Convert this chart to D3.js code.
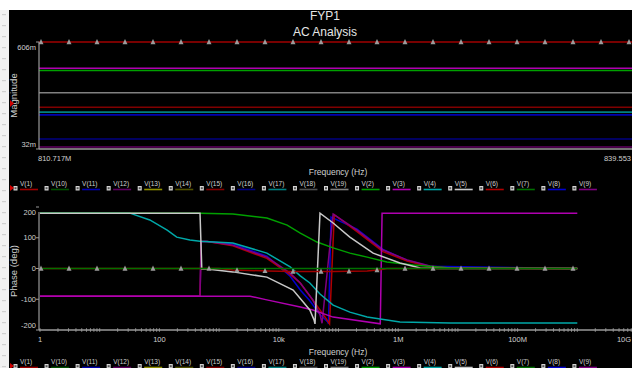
<!DOCTYPE html>
<html><head><meta charset="utf-8">
<script src="https://cdn.jsdelivr.net/npm/d3@7"></script>
<style>
html,body{margin:0;padding:0;background:#fff;overflow:hidden}
svg{display:block}
text{font-family:"Liberation Sans Narrow","Liberation Sans",Arial,sans-serif}
</style></head><body>
<svg id="c" width="632" height="368"></svg>
<script>
// ---------- DATA ----------
const titleLines = ["FYP1", "AC Analysis"];
const legendNames = ["V(1)","V(10)","V(11)","V(12)","V(13)","V(14)","V(15)","V(16)","V(17)","V(18)","V(19)","V(2)","V(3)","V(4)","V(5)","V(6)","V(7)","V(8)","V(9)"];

// Magnitude plot (values in mV, constant over the zoomed frequency window)
const magFreqDomain = [810.717e6, 839.553e6];
const magFreqLabels = ["810.717M", "839.553"];
const magTicks = [606, 32];
const magTickLabels = ["606m", "32m"];
const magSeries = ["V(12)","V(16)","V(11)","V(17)","V(15)","V(19)","V(2)","V(3)","V(1)"];
const magValues = [43, 86, 215, 230, 256, 334, 453, 465, 606];

// Phase plot
const phaseTicks = [200, 100, 0, -100, -200];
const freqTicks = [1, 100, 1e4, 1e6, 1e8, 1e10];
const freqTickLabels = ["1", "100", "10k", "1M", "100M", "10G"];

const fV8 = [1, 479, 501, 631, 1700, 6310, 15500, 22900, 33100, 49000, 66100, 68000, 75000, 204000, 556000, 1.41e6, 3.39e6, 1e9];
const pV8 = [-90, -90, 88, 88, 80, 40, -25, -70, -105, -150, -174, -180, 167, 128, 62, 26, 7, 0];

const fV6 = [1, 479, 501, 631, 1700, 6310, 15500, 22900, 49000, 63000, 70800, 85000, 204000, 556000, 1.41e6, 3.39e6, 7.41e6, 1e9];
const pV6 = [-90, -90, 88, 88, 74, 33, -20, -47, -135, -165, -180, 175, 120, 55, 24, 6, 1, 0];

const fV9 = [1, 479, 501, 631, 1700, 6310, 15500, 22900, 37200, 49000, 53000, 81300, 204000, 556000, 1.41e6, 3.39e6, 7.41e6, 1e9];
const pV9 = [-90, -90, 88, 88, 76, 37, -15, -47, -102, -150, -178, 177, 125, 60, 28, 8, 2, 0];

const fV3 = [1, 3310, 6310, 22900, 37200, 81300, 501000, 537000, 1e9];
const pV3 = [-90, -90, -102, -125, -135, -158, -180, 180, 180];

const fV4 = [1, 32, 69, 135, 195, 324, 479, 1700, 6310, 15500, 22900, 33100, 49000, 81300, 155000, 302000, 1.07e6, 7.41e6, 1e9];
const pV4 = [180, 180, 158, 125, 102, 93, 89, 83, 50, 5, -24, -47, -83, -119, -142, -158, -174, -177, -177];

const fV2 = [1, 479, 1700, 6310, 13800, 22900, 43600, 81300, 155000, 302000, 646000, 1.78e6, 7.41e6, 1e9];
const pV2 = [180, 180, 177, 164, 141, 115, 86, 67, 50, 37, 21, 11, 2, 0];

const fV5 = [1, 479, 513, 631, 1700, 6310, 17400, 33100, 38900, 40400, 49000, 81300, 155000, 380000, 1.07e6, 2.34e6, 5.01e6, 1e9];
const pV5 = [180, 180, -2, -2, -11, -28, -70, -135, -167, -180, 180, 148, 102, 50, 18, 2, 0, 0];

const fV1 = [1, 1000, 1700, 6310, 17400, 33100, 81300, 302000, 501000, 646000, 1e9];
const pV1 = [0, 0, -5, -8, -10, -10, -10, -8, -4, 0, 0];

const fV7 = [1, 1e9];
const pV7 = [0, 0];

// ---------- STYLE ----------
const colors = {
  "V(1)":"#a00000","V(10)":"#005000","V(11)":"#0000b0","V(12)":"#600060","V(13)":"#909000",
  "V(14)":"#505000","V(15)":"#800000","V(16)":"#000080","V(17)":"#008080","V(18)":"#505050",
  "V(19)":"#808080","V(2)":"#00a000","V(3)":"#b000b0","V(4)":"#00a8a8","V(5)":"#c8c8c8",
  "V(6)":"#b00000","V(7)":"#007000","V(8)":"#0000d0","V(9)":"#800080"
};
const phaseSeries = [
  ["V(8)", fV8, pV8], ["V(6)", fV6, pV6], ["V(9)", fV9, pV9], ["V(3)", fV3, pV3],
  ["V(4)", fV4, pV4], ["V(2)", fV2, pV2], ["V(5)", fV5, pV5], ["V(1)", fV1, pV1], ["V(7)", fV7, pV7]
];
const txt = "#cfcfcf", axisCol = "#9a9a9a";

// ---------- LAYOUT ----------
const W = 632, H = 368;
const svg = d3.select("#c");
svg.append("rect").attr("width", W).attr("height", H).attr("fill", "#fff");
svg.append("rect").attr("x", 0).attr("y", 10).attr("width", 9).attr("height", H - 10).attr("fill", "#f1f1f1");
svg.append("rect").attr("x", 9).attr("y", 10).attr("width", W - 9).attr("height", H - 10).attr("fill", "#000");
svg.append("g").selectAll("rect").data(d3.range(14, 368, 11)).join("rect")
  .attr("x", 2).attr("y", d => d).attr("width", 4).attr("height", 1.2).attr("fill", "#cfcfcf");

// title
svg.append("g").selectAll("text").data(titleLines).join("text")
  .attr("x", 325).attr("y", (d, i) => 20 + i * 15.5).attr("text-anchor", "middle")
  .attr("fill", "#e6e6e6").attr("font-size", 12).text(d => d);

// ---------- MAGNITUDE PLOT ----------
const mTop = 42, mBot = 149, plotLeft = 39;
const xTop = d3.scaleLinear().domain(magFreqDomain).range([plotLeft, 640]);
const yTop = d3.scaleLinear().domain([32, 606]).range([mBot, mTop]);

const gTop = svg.append("g");
gTop.selectAll("line.s").data(magSeries).join("line").attr("class", "s")
  .attr("x1", xTop(magFreqDomain[0])).attr("x2", xTop(magFreqDomain[1]))
  .attr("y1", (d, i) => yTop(magValues[i])).attr("y2", (d, i) => yTop(magValues[i]))
  .attr("stroke", d => colors[d]).attr("stroke-width", 1.6);
gTop.append("line").attr("x1", plotLeft).attr("x2", W).attr("y1", mBot).attr("y2", mBot)
  .attr("stroke", axisCol).attr("stroke-width", 1.5);
gTop.append("line").attr("x1", plotLeft).attr("x2", plotLeft).attr("y1", mTop).attr("y2", mBot)
  .attr("stroke", axisCol).attr("stroke-width", 1.2);
gTop.selectAll("line.t").data(magTicks).join("line").attr("class", "t")
  .attr("x1", plotLeft - 3).attr("x2", plotLeft).attr("y1", d => yTop(d)).attr("y2", d => yTop(d))
  .attr("stroke", axisCol);
gTop.selectAll("text.t").data(magTicks).join("text").attr("class", "t")
  .attr("x", plotLeft - 3).attr("y", (d, i) => yTop(d) + (i === 0 ? 5 : -5) + 2.5)
  .attr("text-anchor", "end").attr("fill", txt).attr("font-size", 7.5)
  .text((d, i) => magTickLabels[i]);
gTop.append("text").attr("x", xTop(magFreqDomain[0]) - 1).attr("y", 160.5)
  .attr("fill", txt).attr("font-size", 7.5).text(magFreqLabels[0]);
gTop.append("text").attr("x", W - 1).attr("y", 160.5).attr("text-anchor", "end")
  .attr("fill", txt).attr("font-size", 7.5).text(magFreqLabels[1]);
gTop.append("text").attr("transform", `translate(17,${(mTop + mBot) / 2}) rotate(-90)`)
  .attr("text-anchor", "middle").attr("fill", txt).attr("font-size", 9.5).text("Magnitude");
gTop.append("text").attr("x", 338).attr("y", 175).attr("text-anchor", "middle")
  .attr("fill", txt).attr("font-size", 8.5).text("Frequency (Hz)");
const v1Mag = magValues[magSeries.indexOf("V(1)")];
const markerPath = (x, y) => `M${x - 2.5},${y + 2.2}L${x},${y - 3}L${x + 2.5},${y + 2.2}Z`;
gTop.selectAll("path.m").data(d3.range(41, W, 28)).join("path").attr("class", "m")
  .attr("d", x => markerPath(xTop(xTop.invert(x)), yTop(v1Mag)))
  .attr("fill", "#9c9c9c");

// ---------- PHASE PLOT ----------
const pTop = 212, pBot = 330;
const xBot = d3.scaleLog().domain([1, 1e10]).range([40, 637]);
const yBot = d3.scaleLinear().domain([-200, 200]).range([pBot, 207]);
const gBot = svg.append("g");
const line = d3.line().x(d => xBot(d[0])).y(d => yBot(d[1]));
gBot.selectAll("path.s").data(phaseSeries).join("path").attr("class", "s")
  .attr("d", d => line(d[1].map((f, i) => [f, d[2][i]])))
  .attr("fill", "none").attr("stroke", d => colors[d[0]]).attr("stroke-width", 1.5);
const v1Interp = d3.scaleLog().domain(fV1).range(pV1);
gBot.selectAll("path.m").data(d3.range(41, xBot(1e9), 28)).join("path").attr("class", "m")
  .attr("d", x => markerPath(x, yBot(v1Interp(xBot.invert(x)))))
  .attr("fill", "#9c9c9c");
gBot.append("line").attr("x1", plotLeft).attr("x2", W).attr("y1", pBot).attr("y2", pBot)
  .attr("stroke", axisCol).attr("stroke-width", 1.5);
gBot.append("line").attr("x1", plotLeft).attr("x2", plotLeft).attr("y1", pTop).attr("y2", pBot)
  .attr("stroke", axisCol).attr("stroke-width", 1.2);
const minor = xBot.ticks(100).filter(v => v >= 1 && v <= 1e10);
gBot.selectAll("line.mx").data(minor).join("line").attr("class", "mx")
  .attr("x1", d => xBot(d)).attr("x2", d => xBot(d)).attr("y1", pBot - 1.8).attr("y2", pBot + 1.8)
  .attr("stroke", axisCol).attr("stroke-width", 0.9);
gBot.selectAll("text.x").data(freqTicks).join("text").attr("class", "x")
  .attr("x", d => Math.min(xBot(d), W - 8)).attr("y", 341.5).attr("text-anchor", "middle")
  .attr("fill", txt).attr("font-size", 7.5).text((d, i) => freqTickLabels[i]);
gBot.selectAll("line.t").data(phaseTicks).join("line").attr("class", "t")
  .attr("x1", plotLeft - 3).attr("x2", plotLeft).attr("y1", d => yBot(d)).attr("y2", d => yBot(d))
  .attr("stroke", axisCol);
gBot.selectAll("text.t").data(phaseTicks).join("text").attr("class", "t")
  .attr("x", plotLeft - 3)
  .attr("y", (d, i) => yBot(d) + (i === 0 ? 5 : i === phaseTicks.length - 1 ? -5 : 0) + 2.5)
  .attr("text-anchor", "end").attr("fill", txt).attr("font-size", 7.5).text(d => d);
gBot.append("text").attr("transform", `translate(17,${(pTop + pBot) / 2}) rotate(-90)`)
  .attr("text-anchor", "middle").attr("fill", txt).attr("font-size", 9.5).text("Phase (deg)");
gBot.append("text").attr("x", 338).attr("y", 355).attr("text-anchor", "middle")
  .attr("fill", txt).attr("font-size", 8.5).text("Frequency (Hz)");

// ---------- LEGENDS ----------
[186, 364].forEach(base => {
  const g = svg.append("g");
  const item = g.selectAll("g").data(legendNames).join("g")
    .attr("transform", (d, i) => `translate(${20 + i * 31.05},${base})`);
  item.append("rect").attr("x", -6.5).attr("y", 0).attr("width", 4).attr("height", 4.5)
    .attr("fill", "#d4d4d4");
  item.append("rect").attr("x", -5.5).attr("y", 1.2).attr("width", 2).attr("height", 2)
    .attr("fill", "#555");
  item.append("text").attr("x", 0).attr("y", 0).attr("fill", txt).attr("font-size", 6.5).text(d => d);
  item.append("line").attr("x1", 0).attr("x2", 18).attr("y1", 3.5).attr("y2", 3.5)
    .attr("stroke", d => colors[d]).attr("stroke-width", 1.6);
  g.append("path").attr("d", `M10,${base - 1}L14,${base + 2}L10,${base + 5}Z`).attr("fill", "#d00000");
});
svg.append("path").attr("d", "M10,100L14,103.5L10,107Z").attr("fill", "#d00000");
</script>
</body></html>
